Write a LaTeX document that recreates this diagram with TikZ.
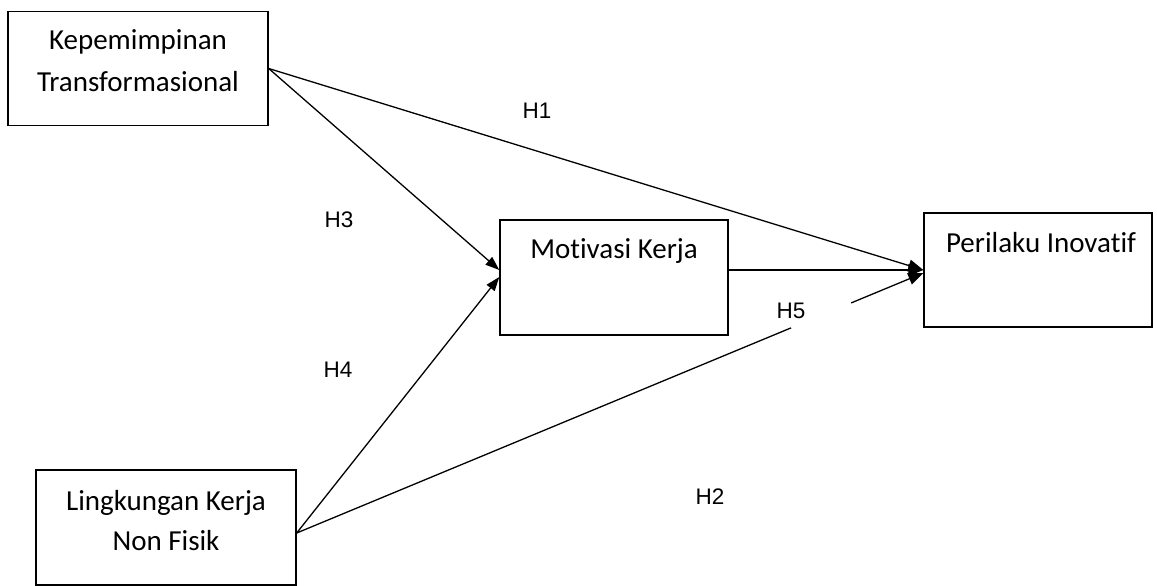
\documentclass[tikz,border=0pt]{standalone}
\usepackage{fontspec}
\setmainfont[Ligatures={NoCommon,NoRequired,NoContextual}]{Carlito}
\newfontfamily\hfont{Liberation Sans}
\usetikzlibrary{arrows.meta}
\begin{document}
\begin{tikzpicture}[x=1pt,y=-1pt,
  box/.style={draw,line width=1.4pt,inner sep=0pt},
  boxtxt/.style={anchor=base,inner sep=0pt,font=\fontsize{29}{40}\selectfont},
  hlab/.style={inner sep=0pt,font=\hfont\fontsize{22.5}{26}\selectfont},
  conn/.style={line width=1.3pt},
  arr/.style={conn,-{Triangle[length=15pt,width=12pt]}},
  arrs/.style={conn,-{Triangle[length=14pt,width=10pt]}}]
\useasboundingbox (0,0) rectangle (1157,586);
% boxes
\node[box,minimum width=260pt,minimum height=114pt] (k) at (138,68.5) {};
\node[box,minimum width=228pt,minimum height=115pt] (m) at (614,277.5) {};
\node[box,minimum width=228pt,minimum height=114pt] (p) at (1038,270) {};
\node[box,minimum width=260pt,minimum height=115pt] (l) at (166,527.5) {};
% texts
\node[boxtxt] (kt1) at (138,50) {Kepemimpinan};
\node[boxtxt] (kt2) at (138,92) {Transformasional};
\node[boxtxt] (mt) at (614,258) {Motivasi Kerja};
\node[boxtxt] (pt) at (1041,252) {Perilaku Inovatif};
\node[boxtxt] (lt1) at (166,510) {Lingkungan Kerja};
\node[boxtxt] (lt2) at (166,550) {Non Fisik};
% connector coordinates
\coordinate (kout) at (k.east);
\coordinate (lout) at ([yshift=-5.5pt]l.east);
\coordinate (min1) at ([yshift=7.5pt]m.west);
\coordinate (min2) at ([yshift=0.5pt]m.west);
\coordinate (mout) at ([yshift=7.5pt]m.east);
\coordinate (pin) at (p.west);
\coordinate (pin2) at ([yshift=-3pt]p.west);
% connectors
\draw[arr] (kout) -- (pin);
\draw[arrs] (kout) -- (min1);
\draw[arrs] (lout) -- (min2);
\draw[arr] (mout) -- (pin);
\path (lout) -- (pin2) coordinate[pos=0.789] (g1) coordinate[pos=0.885] (g2);
\draw[conn] (lout) -- (g1);
\draw[arr] (g2) -- (pin2);
% labels
\node[hlab] (h1) at (537,111) {H1};
\node[hlab] (h3) at (339,220) {H3};
\node[hlab] (h4) at (338,370) {H4};
\node[hlab] (h5) at (791,311) {H5};
\node[hlab] (h2) at (710,497) {H2};
\end{tikzpicture}
\end{document}
